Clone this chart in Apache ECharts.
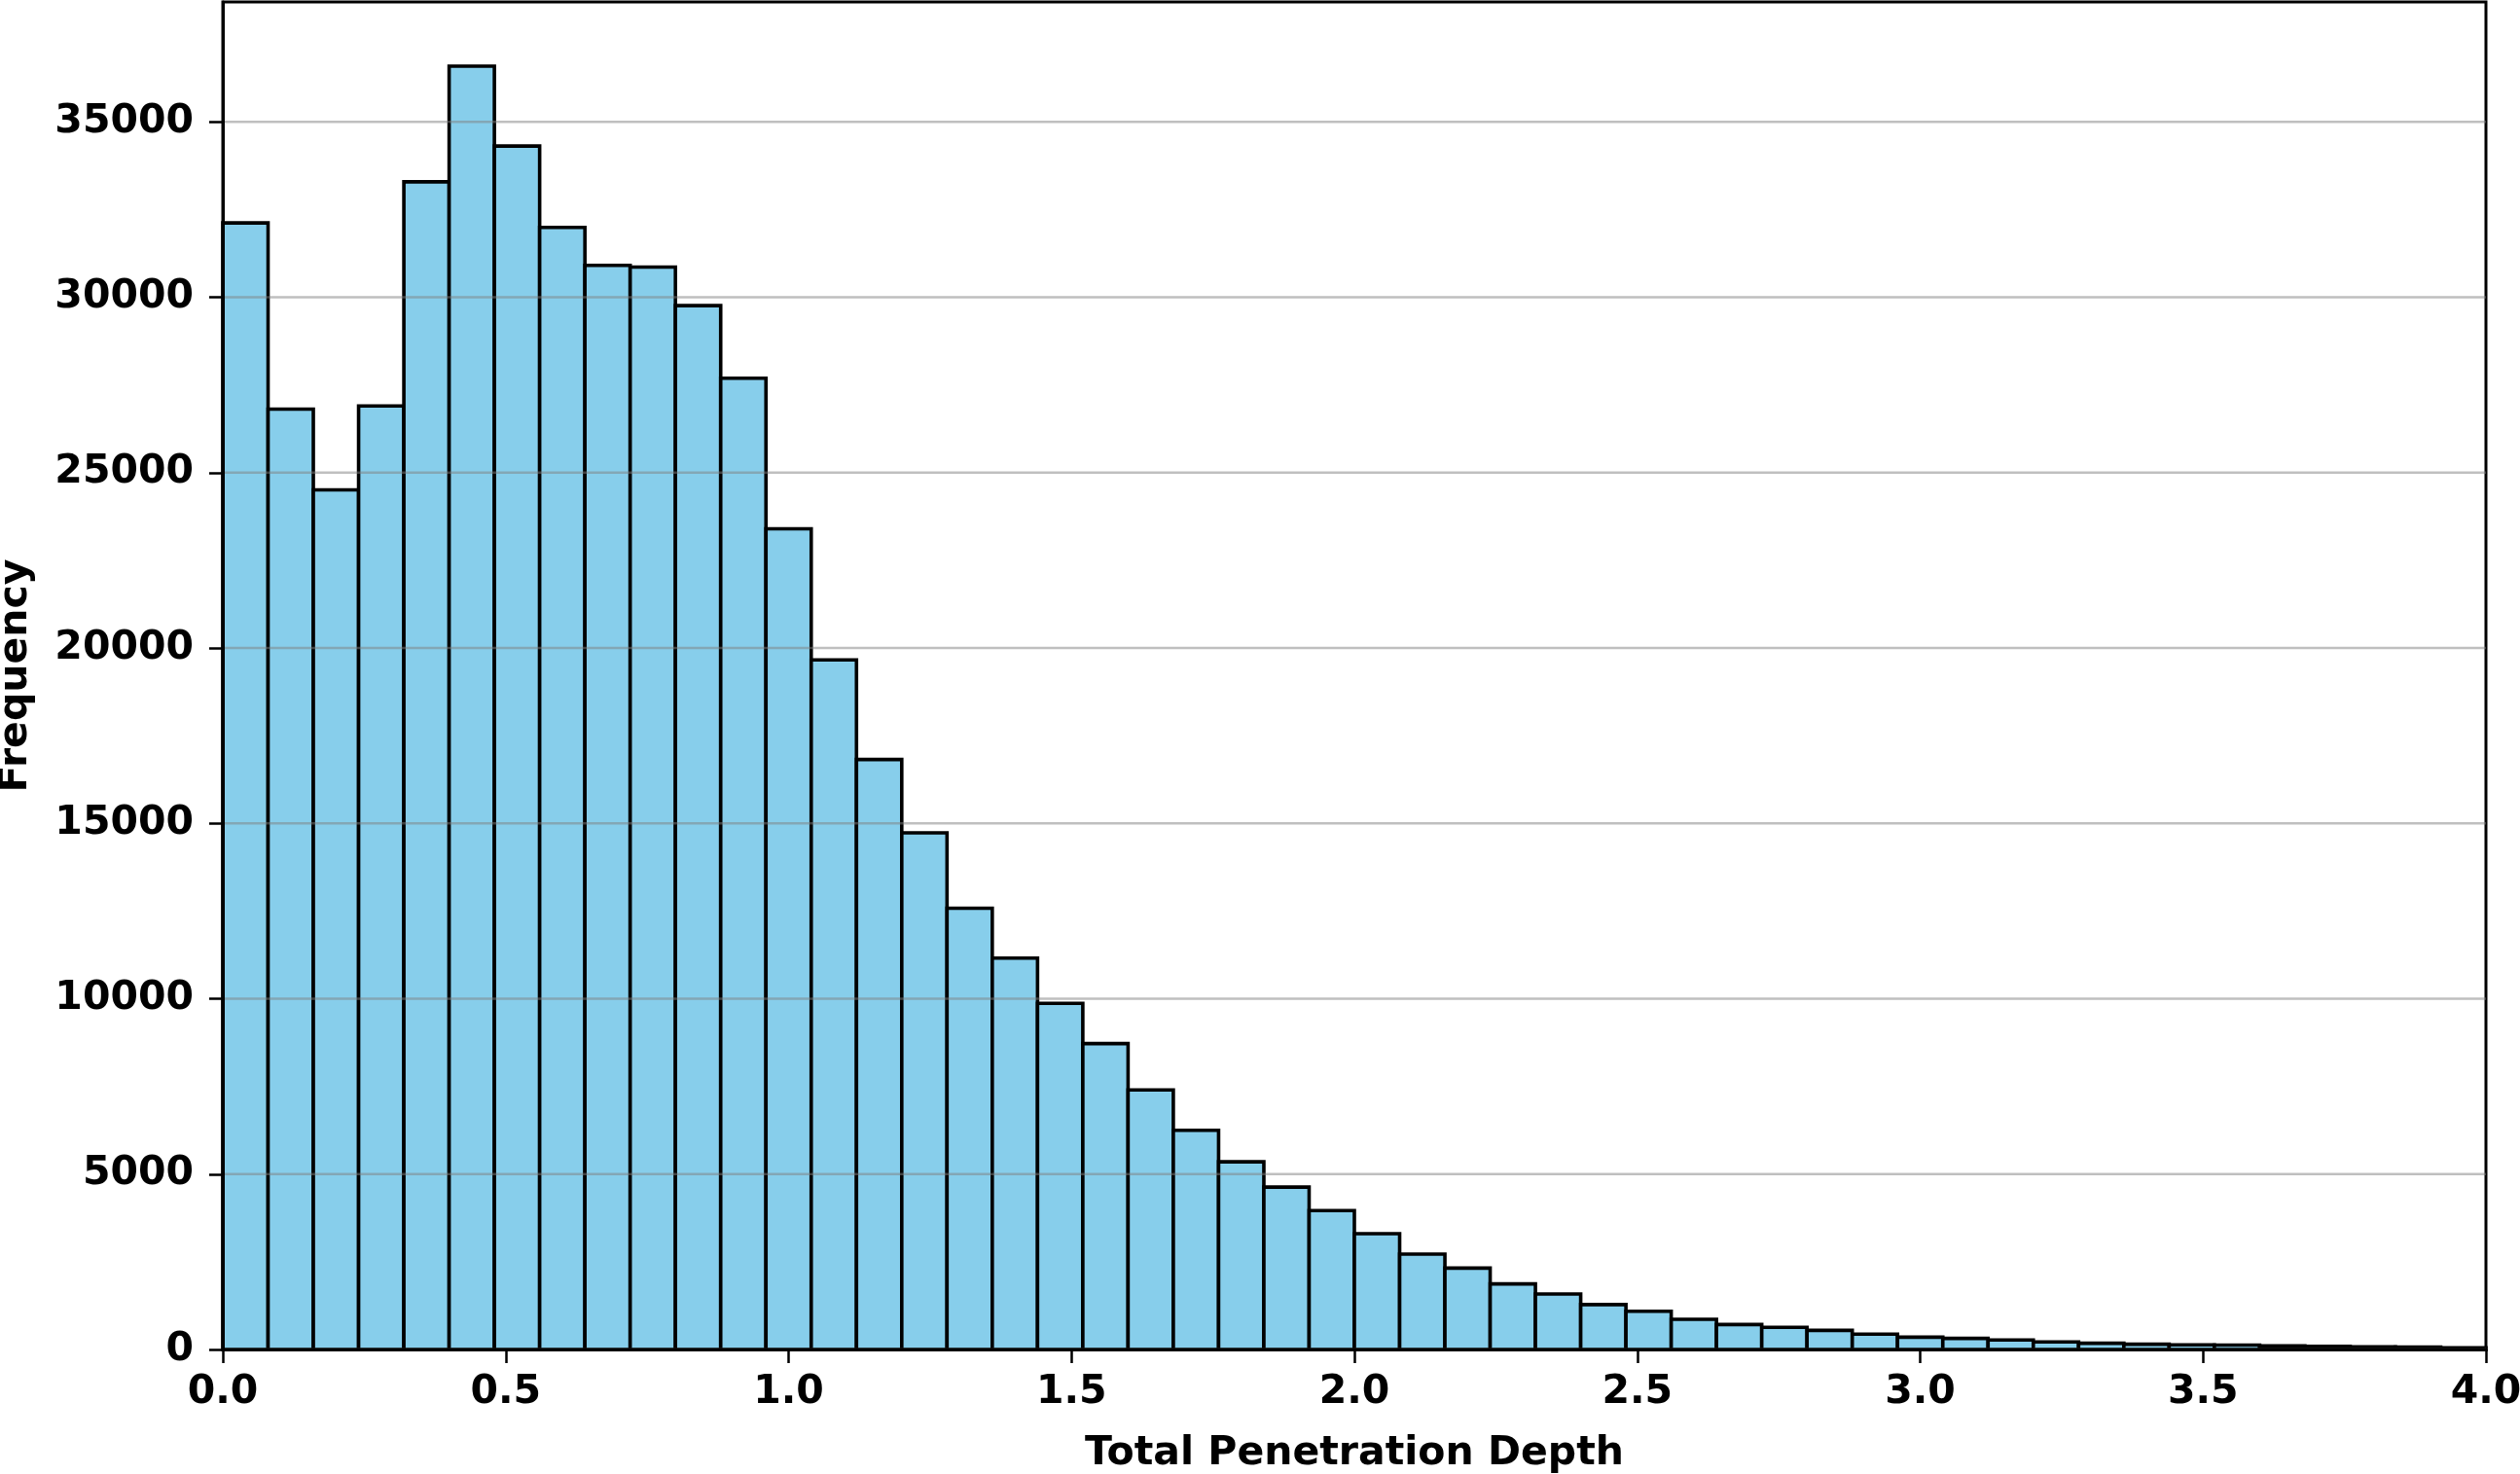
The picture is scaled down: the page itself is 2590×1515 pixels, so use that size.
<!DOCTYPE html>
<html>
<head>
<meta charset="utf-8">
<script src="https://cdn.jsdelivr.net/npm/echarts@6/dist/echarts.min.js"></script>
<style>
html,body{margin:0;padding:0;background:#fff;}
#chart{width:2590px;height:1515px;}
</style>
</head>
<body>
<div id="chart"></div>
<script>
// Histogram: 50 bins of width 0.08 from 0.0 to 4.0
var binStart = 0.0;
var binWidth = 0.08;
var counts = [
  32120, 26810, 24510, 26900, 33290, 36590, 34310, 31990, 30910, 30860,
  29760, 27690, 23400, 19660, 16820, 14730, 12580, 11160, 9870, 8720,
  7400, 6250, 5350, 4630, 3960, 3300, 2720, 2320, 1870, 1580,
  1280, 1090, 860, 710, 630, 545, 435, 350, 315, 270,
  215, 178, 150, 130, 125, 100, 90, 75, 65, 50
];
var xTicks = [0.0, 0.5, 1.0, 1.5, 2.0, 2.5, 3.0, 3.5, 4.0];
var yTicks = [0, 5000, 10000, 15000, 20000, 25000, 30000, 35000];
var xTitle = 'Total Penetration Depth';
var yTitle = 'Frequency';

var xMin = 0, xMax = 4;
var yMax = Math.max.apply(null, counts) * 1.05;

var barData = counts.map(function (c, i) {
  var a = binStart + i * binWidth;
  return [a, a + binWidth, c];
});
var gridData = yTicks.map(function (v) { return [v]; });

var font = { fontFamily: 'DejaVu Sans', fontWeight: 'bold', fontSize: 41, color: '#000' };

var chart = echarts.init(document.getElementById('chart'), null, { renderer: 'canvas' });
chart.setOption({
  animation: false,
  backgroundColor: '#fff',
  grid: {
    left: 229, right: 35, top: 2, bottom: 128,
    outerBoundsMode: 'none', containLabel: false,
    show: true, borderColor: '#000', borderWidth: 3, backgroundColor: 'transparent'
  },
  xAxis: {
    type: 'value', min: xMin, max: xMax, interval: 0.5, z: 10,
    name: xTitle, nameLocation: 'middle', nameGap: 87,
    nameTextStyle: Object.assign({}, font),
    axisLine: { show: true, onZero: false, lineStyle: { color: '#000', width: 3 } },
    axisTick: { show: true, length: 14, lineStyle: { color: '#000', width: 2.5 }, customValues: xTicks },
    axisLabel: Object.assign({ margin: 24, customValues: xTicks, formatter: function (v) { return Number(v).toFixed(1); } }, font),
    splitLine: { show: false }
  },
  yAxis: {
    type: 'value', min: 0, max: yMax, interval: 5000, z: 10,
    name: yTitle, nameLocation: 'middle', nameGap: 192,
    nameTextStyle: Object.assign({}, font),
    axisLine: { show: true, onZero: false, lineStyle: { color: '#000', width: 3 } },
    axisTick: { show: true, length: 14, lineStyle: { color: '#000', width: 2.5 }, customValues: yTicks },
    axisLabel: Object.assign({ margin: 30, customValues: yTicks, formatter: function (v) { return String(v); } }, font),
    splitLine: { show: false }
  },
  series: [
    {
      type: 'custom',
      z: 2,
      data: barData,
      encode: { x: [0, 1], y: 2 },
      renderItem: function (params, api) {
        var x0 = api.value(0), x1 = api.value(1), y = api.value(2);
        var p0 = api.coord([x0, y]);
        var p1 = api.coord([x1, 0]);
        return {
          type: 'rect',
          shape: { x: p0[0], y: p0[1], width: p1[0] - p0[0], height: p1[1] - p0[1] },
          style: { fill: '#87CEEB', stroke: '#000', lineWidth: 3.6 }
        };
      }
    },
    {
      type: 'custom',
      z: 5,
      silent: true,
      data: gridData,
      encode: { y: 0 },
      renderItem: function (params, api) {
        var v = api.value(0);
        var a = api.coord([xMin, v]);
        var b = api.coord([xMax, v]);
        return {
          type: 'line',
          shape: { x1: a[0], y1: a[1], x2: b[0], y2: b[1] },
          style: { stroke: 'rgba(128,128,128,0.5)', lineWidth: 2.7 }
        };
      }
    }
  ]
});
</script>
</body>
</html>
